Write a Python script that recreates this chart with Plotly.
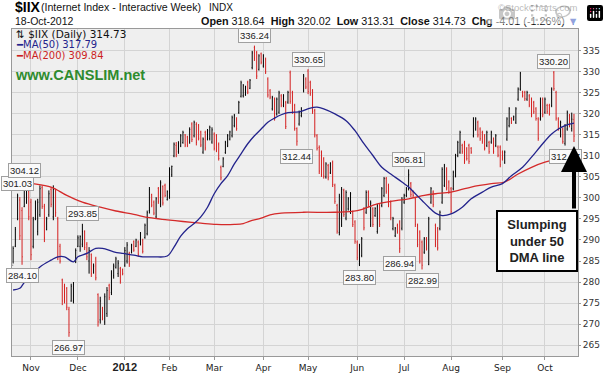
import pandas as pd
import plotly.graph_objects as go

# ---------------- data ----------------
holidays = ["2011-11-24", "2011-12-26", "2012-01-02", "2012-01-16", "2012-02-20",
            "2012-04-06", "2012-05-28", "2012-07-04", "2012-09-03"]
all_days = pd.bdate_range("2011-10-20", "2012-10-18")
dates = [d.strftime("%Y-%m-%d") for d in all_days if d.strftime("%Y-%m-%d") not in holidays]

opens = [
    # Oct 2011
    284.0, 288.5, 295.0, 299.5, 297.0, 298.0, 299.0, 301.5,
    # Nov
    299.0, 288.5, 295.0, 292.0, 296.0, 302.5, 298.0, 292.5, 296.0, 302.0, 295.5, 301.5,
    295.0, 288.5, 280.5, 279.0, 278.5, 273.5, 275.5, 275.5, 285.3,
    # Dec
    288.5, 288.5, 289.0, 292.0, 289.0, 285.0, 286.5, 282.2, 285.5, 277.0, 271.0, 273.8,
    270.5, 272.5, 279.2, 277.5, 281.5, 283.5, 282.0, 283.2, 283.0,
    # Jan 2012
    284.0, 285.0, 286.8, 287.0, 289.6, 288.5, 289.5, 289.0, 290.0, 290.6, 291.5, 297.0,
    300.8, 299.0, 295.5, 302.3, 298.5, 302.7, 303.0, 299.6,
    # Feb
    300.2, 305.5, 310.0, 312.5, 311.0, 312.4, 313.2, 315.0, 314.5, 313.3, 317.6, 314.8,
    317.5, 317.2, 315.7, 310.9, 315.6, 314.0, 314.1, 313.3,
    # Mar
    315.2, 314.8, 312.8, 307.3, 307.5, 310.8, 312.4, 314.0, 314.8, 317.2, 318.8, 320.3,
    324.2, 324.3, 324.6, 327.5, 326.1, 331.0, 335.8, 334.6, 330.6, 334.3,
    # Apr
    331.4, 333.0, 328.3, 325.5, 321.2, 323.5, 320.0, 320.4, 324.3, 322.0, 322.7, 322.8,
    329.8, 325.0, 322.0, 316.5, 317.6, 319.6, 325.5, 328.3,
    # May
    330.2, 327.5, 325.5, 320.8, 314.8, 312.0, 310.9, 309.3, 305.0, 307.7, 306.0, 308.5,
    303.0, 298.2, 291.8, 293.6, 301.8, 295.2, 297.4, 296.6, 296.6, 294.3,
    # Jun
    289.5, 284.3, 286.3, 297.4, 296.6, 301.4, 293.6, 297.4, 295.8, 292.0, 298.2, 298.2,
    300.6, 304.6, 303.0, 299.0, 292.7, 291.0, 293.5, 294.3, 292.8,
    # Jul
    299.0, 300.6, 302.2, 303.4, 301.5, 299.8, 293.5, 291.9, 289.5, 287.1, 290.3, 284.2,
    299.0, 301.4, 293.5, 292.7, 292.7, 299.0, 303.0, 306.9, 303.8,
    # Aug
    302.2, 302.2, 305.3, 310.1, 310.9, 312.5, 313.2, 311.7, 312.5, 311.8, 314.8, 316.4,
    318.0, 316.4, 315.6, 314.8, 312.5, 313.2, 313.3, 314.0, 312.5, 312.1, 312.1,
    # Sep
    310.9, 308.5, 314.0, 317.2, 318.9, 318.6, 318.0, 323.5, 325.9, 325.2, 325.1, 323.5,
    324.3, 323.5, 322.7, 321.2, 318.8, 318.8, 323.5,
    # Oct
    320.4, 322.0, 322.0, 322.0, 329.8, 325.1, 318.8, 314.8, 316.4, 313.0, 316.4, 319.6,
    316.5, 318.64,
]
highs = [
    288.5, 293.1, 301.03, 300.2, 297.8, 304.12, 303.5, 302.2,
    299.8, 295.5, 299.4, 299.8, 303.0, 303.0, 298.6, 295.5, 301.8, 302.6, 303.0, 302.2,
    295.5, 289.1, 280.8, 279.6, 278.8, 274.1, 279.6, 280.0, 288.0,
    291.1, 291.1, 293.85, 292.3, 289.5, 288.3, 286.8, 284.4, 286.0, 277.3, 276.5, 274.1,
    277.3, 278.8, 279.6, 282.8, 284.4, 286.0, 285.2, 283.6, 283.2,
    288.3, 289.5, 287.2, 289.1, 289.9, 290.3, 289.9, 291.9, 290.3, 293.9, 297.0, 302.6,
    301.0, 299.4, 300.2, 302.6, 304.2, 303.0, 303.4, 301.8,
    307.3, 307.7, 313.2, 313.3, 313.5, 315.2, 316.0, 315.2, 314.8, 316.8, 318.0, 318.4,
    318.0, 317.6, 316.0, 314.4, 316.0, 316.4, 317.2, 316.8,
    315.6, 315.2, 313.2, 307.7, 309.7, 313.6, 315.2, 316.0, 319.6, 320.0, 319.2, 323.1,
    327.9, 327.1, 326.7, 327.9, 328.3, 335.0, 336.24, 335.0, 334.2, 334.6,
    334.2, 333.4, 328.7, 325.9, 324.3, 323.9, 323.9, 325.5, 324.7, 324.7, 323.1, 325.5,
    330.3, 325.5, 322.4, 316.8, 320.8, 321.6, 329.5, 328.7,
    330.65, 327.9, 325.9, 321.2, 315.2, 312.5, 311.3, 309.7, 308.5, 308.1, 308.5, 308.9,
    303.4, 298.6, 301.0, 302.6, 302.2, 301.8, 300.2, 301.4, 297.0, 294.7,
    289.9, 289.1, 290.7, 297.8, 301.8, 301.8, 299.4, 297.8, 297.8, 298.6, 298.6, 302.6,
    305.0, 305.0, 303.4, 299.4, 295.5, 293.1, 293.9, 294.7, 300.2,
    301.0, 302.6, 306.81, 303.8, 301.8, 300.2, 293.9, 292.3, 289.9, 290.7, 290.7, 295.5,
    302.6, 301.8, 293.9, 293.1, 297.0, 307.3, 308.1, 307.3, 304.2,
    302.6, 306.5, 310.5, 313.6, 316.0, 312.9, 313.6, 312.1, 312.9, 312.1, 319.2, 319.2,
    318.4, 316.8, 316.0, 315.2, 316.0, 313.6, 316.0, 314.4, 315.2, 312.5, 312.5,
    311.3, 311.3, 319.2, 321.6, 319.2, 319.6, 321.6, 326.3, 330.0, 325.5, 325.5, 325.5,
    324.7, 323.9, 323.1, 321.6, 319.2, 323.9, 323.9,
    323.9, 322.4, 322.4, 326.3, 330.20, 325.5, 319.2, 318.4, 316.8, 317.6, 320.8, 320.0,
    320.3, 320.02,
]
lows = [
    284.4, 288.3, 294.7, 290.0, 284.10, 297.8, 298.6, 294.7,
    285.2, 288.0, 294.7, 291.1, 295.5, 297.4, 289.5, 292.3, 295.5, 297.8, 294.7, 295.5,
    285.2, 284.4, 274.5, 274.9, 273.3, 266.97, 275.3, 274.9, 284.5,
    288.3, 287.2, 288.3, 287.6, 285.2, 282.0, 281.2, 282.0, 280.4, 269.4, 270.1, 270.9,
    269.8, 271.7, 275.7, 276.9, 280.8, 283.2, 281.2, 279.6, 281.6,
    283.6, 284.4, 283.6, 286.8, 287.2, 288.3, 286.0, 288.7, 286.8, 290.3, 291.1, 296.3,
    297.8, 295.9, 295.1, 298.6, 297.8, 298.2, 300.2, 299.4,
    299.8, 305.0, 309.7, 309.7, 310.5, 312.1, 312.9, 312.1, 312.1, 312.9, 313.3, 314.4,
    312.5, 313.7, 312.1, 310.5, 311.3, 313.7, 313.7, 312.9,
    311.3, 310.9, 308.9, 304.2, 307.3, 310.5, 312.1, 313.7, 314.4, 316.8, 316.0, 320.0,
    323.9, 323.9, 324.3, 324.7, 325.9, 330.6, 332.6, 328.3, 330.3, 331.8,
    331.0, 329.5, 323.9, 323.5, 320.8, 318.4, 319.6, 320.0, 321.6, 321.6, 316.4, 322.4,
    322.4, 320.0, 316.0, 312.44, 317.2, 319.2, 325.1, 325.9,
    324.7, 324.3, 320.0, 314.4, 311.3, 305.7, 305.0, 304.6, 304.6, 304.2, 305.7, 302.6,
    298.6, 291.5, 291.1, 293.1, 295.5, 294.7, 297.0, 296.2, 293.1, 289.1,
    285.2, 283.80, 285.9, 292.3, 296.2, 297.8, 293.1, 293.1, 295.5, 291.5, 293.1, 297.8,
    300.2, 301.0, 297.8, 294.7, 292.3, 290.7, 291.5, 286.94, 292.3,
    298.6, 300.2, 301.8, 300.2, 300.2, 293.1, 288.3, 284.4, 282.99, 286.7, 287.5, 284.0,
    298.6, 297.8, 288.3, 287.5, 292.3, 298.6, 302.6, 301.8, 301.0,
    296.2, 301.8, 304.9, 309.7, 310.5, 310.5, 308.1, 308.9, 308.1, 310.5, 314.4, 316.0,
    314.4, 313.6, 312.9, 311.3, 312.1, 310.5, 312.9, 310.5, 312.1, 309.7, 307.3,
    308.9, 308.1, 313.6, 316.8, 317.6, 318.4, 317.6, 323.1, 325.5, 323.9, 323.1, 323.1,
    321.6, 319.2, 320.0, 318.4, 313.6, 318.4, 319.2,
    320.0, 320.0, 319.6, 321.6, 325.5, 318.4, 316.0, 314.4, 312.9, 312.47, 316.0, 316.8,
    315.8, 313.31,
]
closes = [
    288.0, 292.5, 300.5, 291.0, 286.0, 303.0, 302.8, 295.5,
    286.5, 294.8, 298.8, 299.0, 302.2, 298.0, 290.5, 295.0, 301.0, 298.5, 302.0, 296.5,
    286.0, 285.0, 275.5, 275.5, 274.0, 268.0, 279.0, 279.5, 287.5,
    290.5, 290.8, 292.0, 288.2, 286.0, 287.5, 282.0, 283.8, 281.0, 270.5, 275.5, 271.3,
    276.5, 278.0, 276.3, 282.0, 283.8, 285.5, 284.5, 280.2, 282.0,
    287.5, 288.8, 284.3, 288.8, 287.6, 290.0, 286.6, 291.5, 287.3, 293.5, 296.5, 302.0,
    298.3, 296.4, 299.8, 299.2, 303.6, 298.8, 300.6, 301.5,
    306.8, 307.5, 312.8, 310.3, 313.0, 314.8, 315.6, 312.6, 312.5, 316.3, 313.9, 318.0,
    313.2, 314.2, 312.6, 314.0, 311.9, 316.0, 316.8, 316.2,
    311.8, 311.4, 309.4, 304.8, 309.3, 313.2, 314.8, 315.7, 319.1, 319.6, 316.5, 322.7,
    327.4, 326.7, 326.4, 325.2, 328.0, 334.5, 333.2, 329.0, 333.8, 332.3,
    333.8, 330.0, 324.5, 324.0, 323.9, 319.0, 323.5, 325.0, 322.1, 324.3, 317.0, 325.1,
    323.0, 320.6, 316.5, 313.5, 320.4, 321.2, 329.0, 326.4,
    325.3, 324.8, 320.6, 315.0, 311.8, 306.4, 305.6, 305.2, 308.1, 304.8, 308.2, 303.2,
    299.2, 292.1, 300.4, 302.0, 296.1, 301.3, 299.8, 301.0, 293.7, 289.7,
    285.8, 288.6, 290.3, 292.9, 301.3, 298.4, 298.8, 293.7, 297.5, 298.1, 293.7, 302.2,
    304.6, 301.6, 298.4, 295.3, 295.1, 292.8, 292.0, 288.0, 299.7,
    300.6, 302.2, 305.5, 300.8, 300.6, 293.7, 288.9, 285.0, 284.0, 290.3, 288.0, 295.0,
    302.2, 298.4, 288.9, 288.1, 296.6, 306.8, 307.6, 302.4, 301.6,
    296.8, 306.1, 310.1, 313.2, 315.6, 311.0, 308.7, 309.4, 308.7, 310.9, 318.8, 318.8,
    315.0, 314.1, 313.4, 311.8, 315.6, 311.0, 315.6, 311.0, 314.8, 310.2, 307.9,
    309.4, 310.9, 318.8, 321.2, 318.0, 319.3, 321.2, 325.9, 329.7, 324.3, 323.6, 325.1,
    322.1, 319.8, 320.5, 318.9, 314.2, 323.5, 319.8,
    323.5, 320.5, 320.0, 325.9, 326.0, 319.0, 316.5, 318.0, 313.4, 317.2, 320.4, 317.3,
    318.74, 314.73,
]

ma50_idx = [0, 3, 5, 9, 12, 17, 20, 23, 27, 29, 33, 37, 40, 45, 49, 54, 58, 63, 69, 72,
            75, 78, 81, 84, 87, 90, 93, 96, 99, 102, 105, 108, 111, 114, 117, 120, 123,
            126, 129, 133, 136, 139, 144, 149, 153, 157, 161, 165, 169, 174, 177, 180,
            183, 186, 189, 192, 196, 201, 205, 210, 214, 219, 223, 228, 232, 237, 241,
            244, 247, 251]
ma50_val = [278.1, 278.5, 279.9, 282.0, 283.6, 285.2, 286.0, 286.0, 284.8, 286.0, 286.8,
            288.0, 288.0, 287.2, 286.8, 286.4, 286.0, 286.0, 286.2, 288.3, 290.9, 292.7,
            293.9, 295.5, 297.8, 301.0, 303.4, 305.3, 308.1, 310.5, 312.9, 314.8, 316.4,
            318.0, 319.0, 319.8, 320.3, 320.4, 320.6, 321.4, 321.6, 321.2, 320.0, 318.4,
            316.0, 312.9, 310.1, 307.3, 305.7, 303.8, 302.6, 301.0, 299.4, 297.8, 296.4,
            295.8, 296.2, 297.8, 299.8, 301.4, 302.6, 303.4, 305.3, 307.3, 309.7, 312.9,
            315.2, 316.4, 317.2, 317.79]
ma200_idx = [0, 9, 17, 24, 31, 39, 46, 54, 61, 69, 76, 84, 91, 99, 103, 106, 111, 115,
             120, 130, 144, 154, 163, 169, 177, 184, 189, 196, 205, 214, 220, 226, 232,
             238, 244, 251]
ma200_val = [303.8, 303.4, 302.6, 300.6, 299.0, 297.8, 296.9, 296.1, 295.3, 294.8, 294.4,
             294.0, 293.7, 293.7, 293.9, 294.5, 295.2, 296.0, 296.4, 296.6, 296.6, 297.0,
             298.6, 299.2, 299.8, 300.6, 301.0, 301.4, 302.6, 303.4, 303.8, 305.7, 307.3,
             308.5, 309.3, 309.84]

month_labels = ["Nov", "Dec",
                "<span style='font-family:Liberation Sans;font-size:11px'><b>2012</b></span>",
                "Feb", "Mar", "Apr", "May", "Jun", "Jul", "Aug", "Sep", "Oct"]
y_ticks = [265, 270, 275, 280, 285, 290, 295, 300, 305, 310, 315, 320, 325, 330, 335]

# (bar index, "hi"/"lo") for price labels
peak_labels = [(2, "hi"), (5, "hi"), (4, "lo"), (25, "lo"), (31, "hi"), (108, "hi"),
               (132, "hi"), (127, "lo"), (155, "lo"), (177, "hi"), (173, "lo"),
               (183, "lo"), (242, "hi"), (247, "lo")]

# ---------------- figure ----------------
W, H = 609, 373
L_PX, R_PX, T_PX, B_PX = 12, 578, 29, 356


def pxx(p):
    return (p - L_PX) / (R_PX - L_PX)


def pxy(p):
    return (B_PX - p) / (B_PX - T_PX)


# first trading day of each month -> tick positions
month_firsts = []
seen = set()
for d in dates:
    key = d[:7]
    if key not in seen:
        seen.add(key)
        month_firsts.append(d)
month_ticks = month_firsts[1:]  # skip partial Oct 2011

fig = go.Figure()
fig.add_trace(go.Ohlc(
    x=dates, open=opens, high=highs, low=lows, close=closes,
    increasing=dict(line=dict(color="#000000", width=1)),
    decreasing=dict(line=dict(color="#d42020", width=1)),
    tickwidth=0.25, showlegend=False, hoverinfo="skip",
))
fig.add_trace(go.Scatter(
    x=[dates[i] for i in ma200_idx], y=ma200_val, mode="lines",
    line=dict(color="#d42a2a", width=1.3, shape="spline"), showlegend=False, hoverinfo="skip",
))
fig.add_trace(go.Scatter(
    x=[dates[i] for i in ma50_idx], y=ma50_val, mode="lines",
    line=dict(color="#23238c", width=1.3, shape="spline"), showlegend=False, hoverinfo="skip",
))

ann = []
# header
ann.append(dict(text="<b>$IIX</b>", x=pxx(12.5), y=pxy(7), xanchor="left", yanchor="middle",
                font=dict(size=14, color="#000")))
ann.append(dict(text="(Internet Index - Interactive Week)", x=pxx(39), y=pxy(7.5), xanchor="left",
                yanchor="middle", font=dict(size=10.6, color="#111")))
ann.append(dict(text="INDX", x=pxx(207), y=pxy(7.5), xanchor="left", yanchor="middle",
                font=dict(size=10, color="#111")))
ann.append(dict(text="©StockCharts.com", x=pxx(579), y=pxy(7.5), xanchor="right", yanchor="middle",
                font=dict(size=9.5, color="#777")))
ann.append(dict(text="18-Oct-2012", x=pxx(12.5), y=pxy(21), xanchor="left",
                yanchor="middle", font=dict(size=10.5, color="#111")))
chg = closes[-1] - closes[-2]
pct = chg / closes[-2] * 100
hdr = (f"<b>Open</b> {opens[-1]:.2f}  <b>High</b> {highs[-1]:.2f}  <b>Low</b> {lows[-1]:.2f}  "
       f"<b>Close</b> {closes[-1]:.2f}  <b>Chg</b> {chg:.2f} ({pct:.2f}%) "
       f"<span style='color:#2244bb'>▼</span>")
ann.append(dict(text=hdr, x=pxx(580), y=pxy(21), xanchor="right", yanchor="middle",
                font=dict(size=10.8, color="#111")))
# legend
ann.append(dict(text=f"⇅ $IIX (Daily) {closes[-1]:.2f}", x=pxx(14), y=pxy(34), xanchor="left",
                yanchor="middle", font=dict(family="DejaVu Sans", size=10.5, color="#111")))
ann.append(dict(text=f"<b>━</b>MA(50) {ma50_val[-1]:.2f}", x=pxx(14), y=pxy(45), xanchor="left",
                yanchor="middle", font=dict(family="DejaVu Sans", size=10, color="#23238c")))
ann.append(dict(text=f"<b>━</b>MA(200) {ma200_val[-1]:.2f}", x=pxx(14), y=pxy(56), xanchor="left",
                yanchor="middle", font=dict(family="DejaVu Sans", size=10, color="#cc1f1f")))
ann.append(dict(text="<b>www.CANSLIM.net</b>", x=pxx(13), y=pxy(75), xanchor="left",
                yanchor="middle", font=dict(size=14.5, color="#2e8b2e")))

# price labels
for i, kind in peak_labels:
    v = highs[i] if kind == "hi" else lows[i]
    ann.append(dict(text=f"{v:.2f}", x=dates[i], y=v, xref="x", yref="y",
                    yshift=10 if kind == "hi" else -11, xanchor="center", yanchor="middle",
                    font=dict(size=9.5, color="#222"), bgcolor="#fafafa",
                    bordercolor="#a0a0a0", borderwidth=1, borderpad=1))

# callout box
ann.append(dict(text="<b>Slumping<br>under 50<br>DMA line</b>", x=pxx(537), y=pxy(241),
                xanchor="center", yanchor="middle", align="center", width=78, height=58,
                font=dict(size=13, color="#222"), bgcolor="#ffffff", bordercolor="#000000",
                borderwidth=2, borderpad=0))
# arrow
ann.append(dict(text="", x=pxx(574), y=pxy(146), ax=0, ay=64, showarrow=True,
                arrowhead=2, arrowsize=1.3, arrowwidth=4, arrowcolor="#000000"))

for a in ann:
    a.setdefault("xref", "paper")
    a.setdefault("yref", "paper")
    a.setdefault("showarrow", False)

fig.update_layout(
    width=W, height=H,
    margin=dict(l=L_PX, r=W - R_PX, t=T_PX, b=H - B_PX, pad=0, autoexpand=False),
    paper_bgcolor="#ffffff", plot_bgcolor="#efefef",
    font=dict(family="Liberation Sans", size=11, color="#222"),
    annotations=ann,
    showlegend=False,
    xaxis=dict(type="category", categoryorder="array", categoryarray=dates,
               range=[-0.5, 252.8], tickmode="array", tickvals=month_ticks, ticktext=month_labels,
               showgrid=True, gridcolor="#d4d4d4", gridwidth=1, ticks="outside", ticklen=3,
               tickcolor="#999", showline=True, linecolor="#999", linewidth=1, mirror=True,
               zeroline=False, automargin=False,
               rangeslider=dict(visible=False), tickfont=dict(family="DejaVu Sans", size=9, color="#222"),
               fixedrange=True),
    yaxis=dict(side="right", range=[262.4, 340.2], tickmode="array", tickvals=y_ticks,
               showgrid=True, gridcolor="#d4d4d4", gridwidth=1, ticks="outside", ticklen=2,
               tickcolor="#999", showline=True, linecolor="#999", linewidth=1, mirror=True,
               zeroline=False, automargin=False,
               tickfont=dict(family="DejaVu Sans", size=9, color="#333"),
               fixedrange=True),
)

fig.write_html("out.html",
               post_script="document.body.style.margin='0px';document.body.style.overflow='hidden';")
